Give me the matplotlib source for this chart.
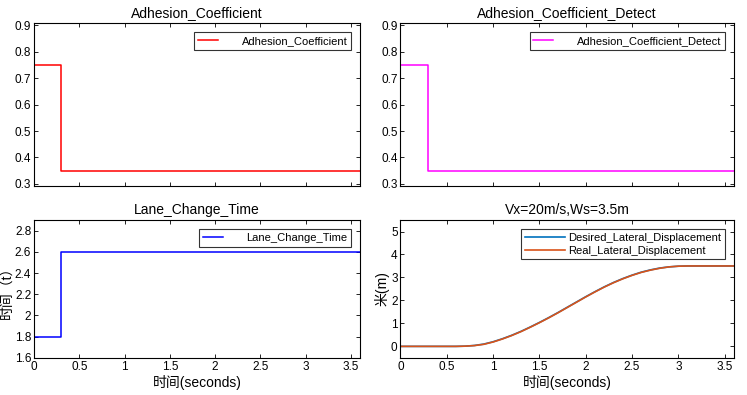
import matplotlib
matplotlib.use("Agg")
import matplotlib.pyplot as plt

plt.rcParams["font.family"] = ["Liberation Sans", "Noto Sans CJK SC", "DejaVu Sans"]
plt.rcParams["font.size"] = 8.5

# step signals
step_t = [0, 0.3, 3.6]
adhesion = [0.75, 0.35, 0.35]
adhesion_detect = [0.75, 0.35, 0.35]
lane_change_time = [1.8, 2.6, 2.6]

# lateral displacement
disp_t = [0, 0.5, 0.6, 0.7, 0.8, 0.9, 1.0, 1.1, 1.2, 1.3, 1.4, 1.5, 1.6, 1.7, 1.8,
          1.9, 2.0, 2.1, 2.2, 2.3, 2.4, 2.5, 2.6, 2.7, 2.8, 2.9, 3.0, 3.1, 3.6]
desired_disp = [0, 0, 0.0, 0.01, 0.04, 0.1, 0.2, 0.33, 0.48, 0.65, 0.84, 1.04, 1.25,
                1.47, 1.7, 1.93, 2.16, 2.38, 2.59, 2.78, 2.95, 3.1, 3.23, 3.33, 3.41,
                3.46, 3.49, 3.5, 3.5]
real_disp = [0, 0, 0.0, 0.01, 0.035, 0.09, 0.19, 0.32, 0.47, 0.64, 0.83, 1.03, 1.24,
             1.46, 1.69, 1.92, 2.15, 2.37, 2.58, 2.77, 2.94, 3.09, 3.22, 3.32, 3.4,
             3.46, 3.49, 3.5, 3.5]

xticks = [0, 0.5, 1, 1.5, 2, 2.5, 3, 3.5]
xticklabels = ["0", "0.5", "1", "1.5", "2", "2.5", "3", "3.5"]

fig = plt.figure(figsize=(7.47, 3.95), dpi=100)
ax1 = fig.add_axes([0.0455, 0.529, 0.4365, 0.4127])
ax2 = fig.add_axes([0.536, 0.529, 0.4465, 0.4127])
ax3 = fig.add_axes([0.0455, 0.094, 0.4365, 0.349])
ax4 = fig.add_axes([0.536, 0.094, 0.4465, 0.349])


def style(ax):
    ax.set_xlim(0, 3.6)
    ax.set_xticks(xticks)
    ax.tick_params(direction="in", top=True, right=True, length=3, width=0.6, pad=2)
    for s in ax.spines.values():
        s.set_linewidth(0.8)


ax1.step(step_t, adhesion, where="post", color="red", lw=1.1, label="Adhesion_Coefficient")
ax1.set_ylim(0.292, 0.908)
ax1.set_yticks([0.3, 0.4, 0.5, 0.6, 0.7, 0.8, 0.9])
ax1.set_title("Adhesion_Coefficient", fontsize=10, pad=4)
style(ax1)
ax1.set_xticklabels([])

ax2.step(step_t, adhesion_detect, where="post", color="magenta", lw=1.1,
         label="Adhesion_Coefficient_Detect")
ax2.set_ylim(0.292, 0.908)
ax2.set_yticks([0.3, 0.4, 0.5, 0.6, 0.7, 0.8, 0.9])
ax2.set_title("Adhesion_Coefficient_Detect", fontsize=10, pad=4)
style(ax2)
ax2.set_xticklabels([])

ax3.step(step_t, lane_change_time, where="post", color="blue", lw=1.1, label="Lane_Change_Time")
ax3.set_ylim(1.6, 2.9)
ax3.set_yticks([1.6, 1.8, 2.0, 2.2, 2.4, 2.6, 2.8])
ax3.set_yticklabels(["1.6", "1.8", "2", "2.2", "2.4", "2.6", "2.8"])
ax3.set_title("Lane_Change_Time", fontsize=10, pad=4)
ax3.set_xlabel("时间(seconds)", fontsize=10, labelpad=2)
ax3.set_ylabel("时间（t）", fontsize=10, labelpad=1)
style(ax3)
ax3.set_xticklabels(xticklabels)

ax4.plot(disp_t, desired_disp, color="#0072BD", lw=1.2, label="Desired_Lateral_Displacement")
ax4.plot(disp_t, real_disp, color="#D95319", lw=1.2, label="Real_Lateral_Displacement")
ax4.set_ylim(-0.5, 5.5)
ax4.set_yticks([0, 1, 2, 3, 4, 5])
ax4.set_title("Vx=20m/s,Ws=3.5m", fontsize=10, pad=4)
ax4.set_xlabel("时间(seconds)", fontsize=10, labelpad=2)
ax4.set_ylabel("米(m)", fontsize=10, labelpad=1)
style(ax4)
ax4.set_xticklabels(xticklabels)

for ax in (ax1, ax2, ax3):
    leg = ax.legend(loc="upper right", fontsize=8, frameon=True, fancybox=False,
                    borderpad=0.35, handlelength=1.8, handletextpad=2.1,
                    borderaxespad=0.8)
    leg.get_frame().set_edgecolor("black")
    leg.get_frame().set_linewidth(0.8)

leg = ax4.legend(loc="upper right", fontsize=8, frameon=True, fancybox=False,
                 borderpad=0.35, handlelength=3.6, handletextpad=0.3,
                 borderaxespad=0.8, labelspacing=0.25)
leg.get_frame().set_edgecolor("black")
leg.get_frame().set_linewidth(0.8)

fig.savefig("out.png", dpi=100)
